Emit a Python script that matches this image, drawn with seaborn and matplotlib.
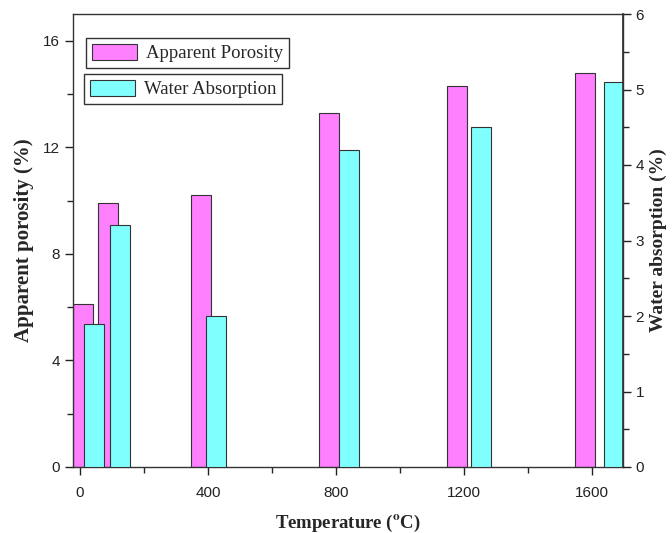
import numpy as np
import pandas as pd
import seaborn as sns
import matplotlib.pyplot as plt
from matplotlib.ticker import MultipleLocator

# Data
temperature = [30, 110, 400, 800, 1200, 1600]
porosity = [6.1, 9.9, 10.2, 13.3, 14.3, 14.8]          # left axis (%)
absorption = [1.9, 3.2, 2.0, 4.2, 4.5, 5.1]            # right axis (%)

sns.set_theme(style="ticks")
plt.rcParams["font.family"] = ["Liberation Sans", "DejaVu Sans"]
plt.rcParams["mathtext.fontset"] = "stix"

pink = "#ff80ff"
cyan = "#80ffff"
serif = "Liberation Serif"

fig = plt.figure(figsize=(6.72, 5.33), dpi=100)
ax = fig.add_axes([73 / 672, 1 - 467 / 533, 550 / 672, 453 / 533])

# porosity layer: bars sit a little left of the temperature
df1 = pd.DataFrame({"T": np.array(temperature) - 22, "v": porosity})
sns.barplot(data=df1, x="T", y="v", native_scale=True, orient="x", errorbar=None,
            color=pink, saturation=1, width=63 / 80, edgecolor="#333333",
            linewidth=0.8, ax=ax, label="Apparent Porosity")

# absorption layer: its own (slightly different) x scale, like the Origin double-Y plot
ax2 = fig.add_axes(ax.get_position(), facecolor="none")
df2 = pd.DataFrame({"T": temperature, "v": absorption})
sns.barplot(data=df2, x="T", y="v", native_scale=True, orient="x", errorbar=None,
            color=cyan, saturation=1, width=61 / 80, edgecolor="#333333",
            linewidth=0.8, ax=ax2, label="Water Absorption")

ax.set_xlim(-22, 1697)
ax.set_ylim(0, 17)
ax2.set_xlim(-33, 1628)
ax2.set_ylim(0, 6)

ax.xaxis.set_major_locator(MultipleLocator(400))
ax.xaxis.set_minor_locator(MultipleLocator(200))
ax.yaxis.set_major_locator(MultipleLocator(4))
ax.yaxis.set_minor_locator(MultipleLocator(2))
ax.tick_params(axis="both", which="major", direction="out", length=6, width=1,
               labelsize=11, colors="#222222")
ax.tick_params(axis="x", which="major", pad=8)
ax.tick_params(axis="both", which="minor", direction="out", length=4, width=1)
ax.tick_params(axis="y", right=False)

ax2.xaxis.set_visible(False)
ax2.yaxis.tick_right()
ax2.yaxis.set_label_position("right")
ax2.yaxis.set_major_locator(MultipleLocator(1))
ax2.yaxis.set_minor_locator(MultipleLocator(0.5))
ax2.tick_params(axis="y", which="major", direction="out", length=6, width=1,
                labelsize=11, colors="#222222", pad=3)
ax2.tick_params(axis="y", which="minor", direction="out", length=4, width=1)
for s in ["top", "bottom", "left"]:
    ax2.spines[s].set_visible(False)
ax2.spines["right"].set_color("#333333")

for s in ax.spines.values():
    s.set_visible(True)
    s.set_color("#333333")
    s.set_linewidth(1)

ax.set_xlabel(r"Temperature ($\mathbf{^o}$C)", fontfamily=serif, fontweight="bold",
              fontsize=13.5, labelpad=9)
ax.set_ylabel("Apparent porosity (%)", fontfamily=serif, fontweight="bold",
              fontsize=15, labelpad=6)
ax2.set_ylabel("Water absorption (%)", fontfamily=serif, fontweight="bold",
               fontsize=14, labelpad=4)

leg_kw = dict(prop={"family": serif, "size": 13.5}, frameon=True, fancybox=False,
              edgecolor="#333333", framealpha=1, handlelength=2.4, handleheight=1.0,
              borderpad=0.3, handletextpad=0.5, borderaxespad=0)
l1 = ax.legend(loc="upper left", bbox_to_anchor=(86 / 672, 1 - 38 / 533),
               bbox_transform=fig.transFigure, **leg_kw)
l1.get_frame().set_linewidth(1)
l2 = ax2.legend(loc="upper left", bbox_to_anchor=(84 / 672, 1 - 74 / 533),
                bbox_transform=fig.transFigure, **leg_kw)
l2.get_frame().set_linewidth(1)

fig.savefig("out.png", dpi=100)
